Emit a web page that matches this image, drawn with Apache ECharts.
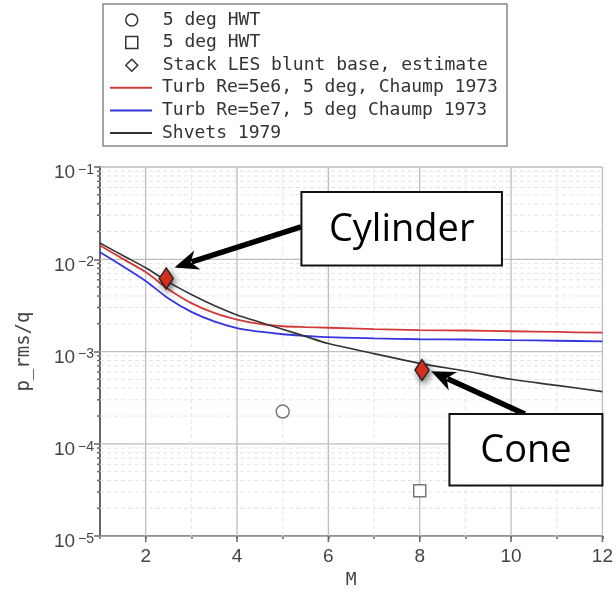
<!DOCTYPE html>
<html>
<head>
<meta charset="utf-8">
<script src="https://cdn.jsdelivr.net/npm/echarts@6/dist/echarts.min.js"></script>
<style>html,body{margin:0;padding:0;background:#fff;}#c{width:616px;height:594px;}</style>
</head>
<body>
<div id="c"></div>
<script>
// ---- data ----
const machGrid = [1, 1.5, 2, 2.5, 3, 3.5, 4, 4.5, 5, 5.5, 6, 7, 8, 9, 10, 11, 12];
const shvets1979 = [1.50e-2, 1.10e-2, 8.1e-3, 5.65e-3, 4.15e-3, 3.15e-3, 2.49e-3, 2.08e-3, 1.74e-3, 1.46e-3, 1.22e-3, 9.5e-4, 7.45e-4, 6.15e-4, 5.0e-4, 4.3e-4, 3.68e-4];
const turbRe5e6 = [1.41e-2, 1.01e-2, 7.26e-3, 4.74e-3, 3.35e-3, 2.62e-3, 2.22e-3, 1.99e-3, 1.88e-3, 1.84e-3, 1.81e-3, 1.75e-3, 1.71e-3, 1.69e-3, 1.66e-3, 1.63e-3, 1.60e-3];
const turbRe5e7 = [1.19e-2, 8.4e-3, 5.82e-3, 3.75e-3, 2.69e-3, 2.12e-3, 1.79e-3, 1.64e-3, 1.54e-3, 1.48e-3, 1.43e-3, 1.39e-3, 1.36e-3, 1.35e-3, 1.33e-3, 1.31e-3, 1.29e-3];
const hwtCircle = [[5, 2.24e-4]];
const hwtSquare = [[8, 3.1e-5]];
const stackLES = [[2.45, 6.2e-3], [8.05, 6.3e-4]];
const xTickLabels = ['2', '4', '6', '8', '10', '12'];
const yDecades = [1e-5, 1e-4, 1e-3, 1e-2, 1e-1];
const markerNames = ['5 deg HWT', '5 deg HWT ', 'Stack LES blunt base, estimate'];
const lineNames = ['Turb Re=5e6, 5 deg, Chaump 1973', 'Turb Re=5e7, 5 deg Chaump 1973', 'Shvets 1979'];
const annotations = [
  { text: 'Cylinder', box: [[5.41, Math.pow(10, -1.272)], [9.80, Math.pow(10, -2.067)]], from: [5.40, Math.pow(10, -1.648)], to: [2.63, Math.pow(10, -2.088)] },
  { text: 'Cone', box: [[8.65, Math.pow(10, -3.678)], [12.0, Math.pow(10, -4.451)]], from: [10.3, Math.pow(10, -3.678)], to: [8.25, Math.pow(10, -3.213)] }
];

// ---- grid helper lines (major/minor) ----
const gridItems = [];
yDecades.forEach((d, i) => {
  gridItems.push({ dir: 'h', v: d, major: true });
  if (i < yDecades.length - 1) for (let k = 2; k <= 9; k++) gridItems.push({ dir: 'h', v: d * k, major: false });
});
for (let m = 2; m <= 12; m++) gridItems.push({ dir: 'v', v: m, major: m % 2 === 0 });

const chart = echarts.init(document.getElementById('c'), null, { renderer: 'canvas' });
const mono = 'DejaVu Sans Mono';
const lineData = arr => machGrid.map((m, i) => [m, arr[i]]);
const legendText = { fontFamily: mono, fontSize: 18, color: '#333', lineHeight: 20 };
const hollow = { color: '#fff', borderColor: '#333', borderWidth: 1.5, shadowBlur: 0, shadowOffsetX: 0, shadowOffsetY: 0, opacity: 1 };

const option = {
  animation: false,
  backgroundColor: '#fff',
  grid: { left: 100, right: 11, top: 167, bottom: 55 },
  legend: [
    {
      orient: 'vertical', left: 125, top: 10, padding: 0,
      itemWidth: 12, itemHeight: 12, itemGap: 2.6, selectedMode: false,
      textStyle: Object.assign({ padding: [0, 0, 0, 20] }, legendText),
      data: [
        { name: markerNames[0], icon: 'circle', itemStyle: hollow },
        { name: markerNames[1], icon: 'rect', itemStyle: hollow },
        { name: markerNames[2], icon: 'diamond', itemStyle: hollow }
      ]
    },
    {
      orient: 'vertical', left: 110, top: 77.8, padding: 0,
      itemWidth: 42, itemHeight: 2, itemGap: 2.6, selectedMode: false, icon: 'rect',
      textStyle: Object.assign({ padding: [0, 0, 0, 5] }, legendText),
      data: lineNames
    }
  ],
  xAxis: {
    type: 'value', min: 1, max: 12, interval: 1,
    name: 'M', nameLocation: 'middle', nameGap: 33,
    nameTextStyle: { fontFamily: mono, fontSize: 18, color: '#444' },
    axisLine: { lineStyle: { color: '#666', width: 2 } },
    axisTick: { length: 3, lineStyle: { color: '#666', width: 1.5 } },
    axisLabel: {
      margin: 11, fontFamily: 'Liberation Sans', fontSize: 19, color: '#444',
      formatter: v => (xTickLabels.indexOf(String(v)) >= 0 ? String(v) : '')
    },
    splitLine: { show: false }
  },
  yAxis: {
    type: 'log', logBase: 10, min: 1e-5, max: 1e-1, interval: 1,
    name: 'p_rms/q', nameLocation: 'middle', nameGap: 66,
    nameTextStyle: { fontFamily: mono, fontSize: 19, color: '#444' },
    axisLine: { show: true, lineStyle: { color: '#666', width: 2 } },
    axisTick: { length: 6, lineStyle: { color: '#666', width: 1.5 } },
    axisLabel: {
      margin: 6, padding: [12, 0, 0, 0],
      formatter: v => '{b|10}{s|\u2212' + Math.abs(Math.round(Math.log10(v))) + '}',
      rich: {
        b: { fontFamily: 'Liberation Sans', fontSize: 19, color: '#444', lineHeight: 20 },
        s: { fontFamily: 'Liberation Sans', fontSize: 14, color: '#444', lineHeight: 12, verticalAlign: 'top', padding: [0, 0, 0, 3] }
      }
    },
    splitLine: { show: false }
  },
  series: [
    {
      type: 'custom', name: '__grid', silent: true, z: 1, clip: false,
      data: gridItems.map(g => [g.dir === 'v' ? g.v : 1, g.dir === 'h' ? g.v : 1e-3]),
      renderItem: (params, api) => {
        const g = gridItems[params.dataIndex];
        const children = [];
        if (g.dir === 'h') {
          const p1 = api.coord([1, g.v]), p2 = api.coord([12, g.v]);
          children.push({ type: 'line', shape: { x1: p1[0], y1: p1[1], x2: p2[0], y2: p2[1] },
            style: { stroke: g.major ? '#bdbdbd' : '#e4e4e4', lineWidth: g.major ? 1.3 : 1, lineDash: g.major ? null : [4, 3] } });
          if (!g.major) children.push({ type: 'line', shape: { x1: p1[0] - 3, y1: p1[1], x2: p1[0], y2: p1[1] }, style: { stroke: '#666', lineWidth: 1.5 } });
        } else {
          const p1 = api.coord([g.v, 1e-5]), p2 = api.coord([g.v, 1e-1]);
          children.push({ type: 'line', shape: { x1: p1[0], y1: p1[1], x2: p2[0], y2: p2[1] },
            style: { stroke: g.major ? '#bdbdbd' : '#e4e4e4', lineWidth: g.major ? 1.3 : 1, lineDash: g.major ? null : [4, 3] } });
          if (g.major) children.push({ type: 'line', shape: { x1: p1[0], y1: p1[1], x2: p1[0], y2: p1[1] + 6 }, style: { stroke: '#666', lineWidth: 1.5 } });
        }
        return { type: 'group', children };
      }
    },
    {
      type: 'line', name: lineNames[0], data: lineData(turbRe5e6), smooth: 0.3,
      symbol: 'none', lineStyle: { color: '#d23a3a', width: 1.8 }, itemStyle: { color: '#d23a3a' }, z: 3
    },
    {
      type: 'line', name: lineNames[1], data: lineData(turbRe5e7), smooth: 0.3,
      symbol: 'none', lineStyle: { color: '#3535e0', width: 1.8 }, itemStyle: { color: '#3535e0' }, z: 3
    },
    {
      type: 'line', name: lineNames[2], data: lineData(shvets1979), smooth: 0.3,
      symbol: 'none', lineStyle: { color: '#333', width: 1.6 }, itemStyle: { color: '#333' }, z: 3
    },
    {
      type: 'scatter', name: markerNames[0], data: hwtCircle, symbol: 'circle', symbolSize: 13,
      itemStyle: { color: '#fff', borderColor: '#777', borderWidth: 1.5, opacity: 1 }, z: 4
    },
    {
      type: 'scatter', name: markerNames[1], data: hwtSquare, symbol: 'rect', symbolSize: 12,
      itemStyle: { color: '#fff', borderColor: '#777', borderWidth: 1.5, opacity: 1 }, z: 4
    },
    {
      type: 'scatter', name: markerNames[2], data: stackLES, symbol: 'diamond', symbolSize: [14, 21],
      itemStyle: { color: '#ec3320', borderColor: '#222', borderWidth: 1.5, opacity: 1, shadowColor: 'rgba(0,0,0,0.5)', shadowBlur: 6, shadowOffsetX: 2, shadowOffsetY: 3 }, z: 5
    }
  ]
};
chart.setOption(option);

// ---- annotations (positions from data coords) ----
const px = p => chart.convertToPixel({ xAxisIndex: 0, yAxisIndex: 0 }, p);
const graphics = [
  { type: 'rect', z: 0, shape: { x: 103, y: 4, width: 404, height: 142 }, style: { fill: '#fff', stroke: '#888', lineWidth: 1.5 } }
];
annotations.forEach(a => {
  const b0 = px(a.box[0]), b1 = px(a.box[1]);
  const S = px(a.from), T = px(a.to);
  const dx = T[0] - S[0], dy = T[1] - S[1], L = Math.hypot(dx, dy);
  const ux = dx / L, uy = dy / L, nx = -uy, ny = ux;
  const hl = 22, hw = 10;
  const B = [T[0] - ux * hl, T[1] - uy * hl];
  graphics.push({ type: 'line', z: 10, shape: { x1: S[0], y1: S[1], x2: B[0] + ux * 4, y2: B[1] + uy * 4 }, style: { stroke: '#000', lineWidth: 5.5 } });
  graphics.push({ type: 'polygon', z: 10, shape: { points: [
    T, [B[0] + nx * hw - ux * 2, B[1] + ny * hw - uy * 2], [B[0] + ux * 5, B[1] + uy * 5], [B[0] - nx * hw - ux * 2, B[1] - ny * hw - uy * 2]
  ] }, style: { fill: '#000' } });
  const x = Math.min(b0[0], b1[0]), y = Math.min(b0[1], b1[1]);
  const w = Math.abs(b1[0] - b0[0]), h = Math.abs(b1[1] - b0[1]);
  graphics.push({ type: 'rect', z: 11, shape: { x, y, width: w, height: h }, style: { fill: '#fff', stroke: '#111', lineWidth: 2 } });
  graphics.push({ type: 'text', z: 12, x: x + w / 2, y: y + h / 2 + 1, style: { text: a.text, fontFamily: 'Open Sans', fontSize: 38, fill: '#000', align: 'center', verticalAlign: 'middle' } });
});
chart.setOption({ graphic: graphics });
</script>
</body>
</html>
